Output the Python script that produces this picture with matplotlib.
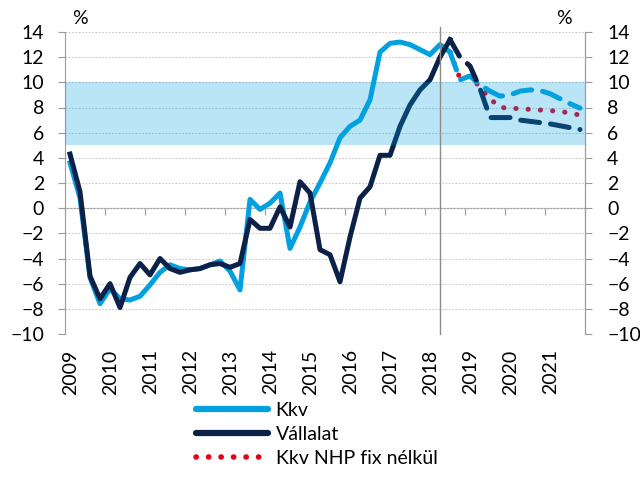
import numpy as np
import matplotlib
matplotlib.use('Agg')
import matplotlib.pyplot as plt
from matplotlib.lines import Line2D

plt.rcParams['font.family'] = ['Lato', 'DejaVu Sans']
plt.rcParams['font.size'] = 14

# negyedéves adatok, 2009 Q1-től
start_year = 2009
years = list(range(2009, 2022))

# tény: 2009Q1 .. 2018Q3
kkv = [3.6, 0.8, -5.5, -7.6, -6.4, -7.2, -7.3, -7.0, -6.1, -5.1,
       -4.5, -4.8, -4.9, -4.8, -4.5, -4.2, -5.0, -6.5, 0.7, -0.1,
       0.4, 1.2, -3.2, -1.5, 0.5, 2.0, 3.6, 5.6, 6.5, 7.0,
       8.6, 12.4, 13.1, 13.2, 13.0, 12.6, 12.2, 13.0, 12.4]
vallalat = [4.3, 1.3, -5.4, -7.2, -6.0, -7.9, -5.5, -4.4, -5.3, -4.0,
            -4.8, -5.1, -4.9, -4.8, -4.5, -4.4, -4.7, -4.4, -0.9, -1.6,
            -1.6, 0.1, -1.5, 2.1, 1.2, -3.3, -3.7, -5.85, -2.3, 0.8,
            1.7, 4.2, 4.2, 6.5, 8.2, 9.4, 10.2, 12.0, 13.4]

# előrejelzés: 2018Q3 .. 2021Q4
kkv_f = [12.4, 10.2, 10.5, 9.8, 9.3, 8.9, 9.0, 9.3, 9.4, 9.35, 9.1, 8.7, 8.3, 7.95]
vallalat_f = [13.4, 12.0, 11.3, 9.5, 7.2, 7.2, 7.2, 7.0, 6.9, 6.8, 6.7, 6.55, 6.4, 6.25]
nhp_f = [12.4, 10.3, 10.5, 9.6, 8.7, 8.0, 7.95, 7.9, 7.85, 7.8, 7.75, 7.7, 7.55, 7.4]

band = (5, 10)
cut_index = 37  # 2018 Q2

c_kkv = '#00A0E1'
c_vall = '#0C2148'
c_red = '#E2001A'
c_axis = '#9A9A9A'

def qpos(first, n):
    idx = np.arange(first, first + n)
    return start_year + idx / 4 + 0.125

x_hist = qpos(0, len(kkv))
x_fc = qpos(len(kkv) - 1, len(kkv_f))

fig = plt.figure(figsize=(6.4, 4.8), dpi=100)
ax = fig.add_axes([65 / 640, 1 - 334 / 480, 520 / 640, 302 / 480])

dot = (0.05, 2.4)
dash = (3.8, 2.2)

ax.plot(x_hist, kkv, color=c_kkv, lw=3.6, zorder=2, solid_joinstyle='round')
ax.plot(x_hist, vallalat, color=c_vall, lw=3.6, zorder=3, solid_joinstyle='round')
ax.plot(x_fc, nhp_f, color=c_red, lw=3.6, zorder=1.5, dashes=dot,
        dash_capstyle='round')
ax.plot(x_fc, kkv_f, color=c_kkv, lw=3.6, zorder=2, dashes=dash,
        dash_capstyle='round')
ax.plot(x_fc, vallalat_f, color=c_vall, lw=3.6, zorder=4, dashes=dash,
        dash_capstyle='round')

ax.axhspan(band[0], band[1], color=c_kkv, alpha=0.27, lw=0, zorder=5)
ax.axvline(qpos(cut_index, 1)[0], color='#8C8C8C', lw=1.0, zorder=6,
           ymax=1.015, clip_on=False)

ax.set_xlim(2009, 2022)
ax.set_ylim(-10, 14)
ax.set_yticks(range(-10, 15, 2))
ax.yaxis.grid(True, color='#C8C8C8', lw=0.8, linestyle=(0, (1.5, 1.5)))
ax.set_axisbelow(True)

ax.set_xticks(np.array(years) + 0.15, labels=[str(y) for y in years], rotation=90)
ax.tick_params(axis='x', length=0, pad=11)
ax.tick_params(axis='y', direction='out', length=5, color=c_axis, pad=10)

for s in ['top', 'bottom']:
    ax.spines[s].set_visible(False)
for s in ['left', 'right']:
    ax.spines[s].set_color(c_axis)

# jobb oldali tengely
ax2 = ax.twinx()
ax2.set_ylim(ax.get_ylim())
ax2.set_yticks(range(-10, 15, 2))
ax2.tick_params(axis='y', direction='out', length=5, color=c_axis, pad=11)
for s in ['top', 'bottom', 'left']:
    ax2.spines[s].set_visible(False)
ax2.spines['right'].set_color(c_axis)

# x tengely a nullánál, évenkénti osztásokkal
y0 = (0 - ax.get_ylim()[0]) / (ax.get_ylim()[1] - ax.get_ylim()[0])
sec = ax.secondary_xaxis(y0)
sec.set_xticks(range(2009, 2023))
sec.xaxis.set_ticks_position('bottom')
sec.tick_params(axis='x', direction='out', length=5, color=c_axis, labelbottom=False,
                labeltop=False)
sec.spines['bottom'].set_color(c_axis)
sec.spines['top'].set_visible(False)

fig.text(80 / 640, 1 - 18 / 480, '%', ha='center', va='center')
fig.text(564 / 640, 1 - 18 / 480, '%', ha='center', va='center')

handles = [
    Line2D([], [], color=c_kkv, lw=4.5, solid_capstyle='round'),
    Line2D([], [], color=c_vall, lw=4.5, solid_capstyle='round'),
    Line2D([], [], color=c_red, lw=4.0, dashes=(0.05, 2.2), dash_capstyle='round'),
]
fig.legend(handles, ['Kkv', 'Vállalat', 'Kkv NHP fix nélkül'],
           loc='upper left', bbox_to_anchor=(196 / 640, 1 - 402 / 480),
           frameon=False, handlelength=3.7, handletextpad=0.4,
           labelspacing=0.35, borderpad=0, borderaxespad=0)

fig.savefig('out.png', dpi=100)
